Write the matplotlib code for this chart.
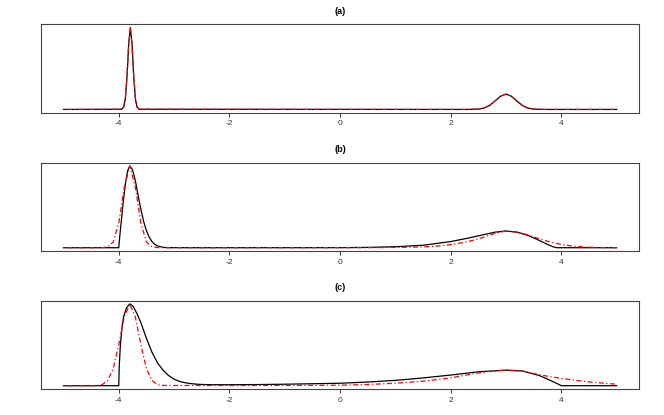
import matplotlib
matplotlib.use("Agg")
import matplotlib.pyplot as plt

# Values (relative density, peak of each panel = 1)

# panel (a)
xa_black = [-5.0, -3.95, -3.91, -3.88, -3.85, -3.82, -3.79, -3.76, -3.73, -3.70, -3.67, -3.63,
            2.3, 2.5, 2.6, 2.7, 2.8, 2.9, 3.0, 3.1, 3.2, 3.3, 3.4, 3.5, 3.7, 5.0]
ya_black = [0.0, 0.002, 0.029, 0.135, 0.41, 0.80, 1.0, 0.80, 0.41, 0.135, 0.029, 0.002,
            0.0, 0.004, 0.016, 0.047, 0.101, 0.161, 0.188, 0.161, 0.101, 0.047, 0.016, 0.004, 0.0, 0.0]
xa_red = [-5.0, -3.95, -3.91, -3.88, -3.85, -3.82, -3.79, -3.76, -3.73, -3.70, -3.67, -3.63,
          2.3, 2.5, 2.6, 2.7, 2.8, 2.9, 3.0, 3.1, 3.2, 3.3, 3.4, 3.5, 3.7, 5.0]
ya_red = [0.0, 0.003, 0.031, 0.14, 0.41, 0.79, 0.99, 0.80, 0.42, 0.14, 0.03, 0.003,
          0.0, 0.005, 0.017, 0.048, 0.102, 0.160, 0.186, 0.160, 0.102, 0.048, 0.017, 0.005, 0.0, 0.0]

# panel (b)
xb_black = [-5.0, -4.0, -3.98, -3.95, -3.92, -3.88, -3.84, -3.80, -3.75, -3.70, -3.65, -3.60,
            -3.55, -3.50, -3.45, -3.40, -3.35, -3.30, -3.2, -3.1, -2.5,
            0.0, 0.5, 1.0, 1.5, 2.0, 2.3, 2.6, 2.8, 3.0, 3.2, 3.4, 3.6, 3.75, 3.85, 3.92, 5.0]
yb_black = [0.0, 0.0, 0.15, 0.35, 0.55, 0.78, 0.94, 1.0, 0.95, 0.82, 0.64, 0.47,
            0.32, 0.21, 0.13, 0.075, 0.042, 0.022, 0.005, 0.001, 0.0,
            0.001, 0.004, 0.012, 0.03, 0.075, 0.115, 0.16, 0.19, 0.204, 0.19, 0.15, 0.09, 0.04, 0.012, 0.0, 0.0]
xb_red = [-5.0, -4.3, -4.2, -4.1, -4.0, -3.9, -3.8, -3.7, -3.6, -3.5, -3.4, -3.3, -3.2,
          0.5, 1.0, 1.5, 1.8, 2.0, 2.2, 2.4, 2.6, 2.8, 3.0, 3.2, 3.4, 3.6, 3.8, 4.0, 4.2, 4.4, 4.6, 4.8, 5.0]
yb_red = [0.0, 0.0, 0.012, 0.07, 0.30, 0.74, 1.0, 0.74, 0.30, 0.07, 0.012, 0.001, 0.0,
          0.001, 0.003, 0.01, 0.022, 0.038, 0.06, 0.09, 0.128, 0.175, 0.204, 0.19, 0.155, 0.11, 0.07, 0.04, 0.02, 0.009, 0.004, 0.001, 0.0]

# panel (c)
xc_black = [-5.0, -4.0, -3.99, -3.97, -3.94, -3.91, -3.86, -3.80, -3.74, -3.67, -3.6, -3.5,
            -3.4, -3.3, -3.2, -3.1, -3.0, -2.9, -2.8, -2.7, -2.6, -2.5, -2.3, -2.0, -1.5,
            -1.0, -0.5, 0.0, 0.5, 1.0, 1.5, 2.0, 2.5, 3.0, 3.3, 3.6, 3.72, 3.85, 3.95, 4.0, 5.0]
yc_black = [0.0, 0.0, 0.25, 0.5, 0.72, 0.85, 0.95, 1.0, 0.97, 0.88, 0.77, 0.58,
            0.41, 0.28, 0.19, 0.125, 0.08, 0.052, 0.036, 0.026, 0.019, 0.015, 0.012, 0.012, 0.014,
            0.018, 0.024, 0.03, 0.045, 0.065, 0.095, 0.13, 0.17, 0.19, 0.18, 0.125, 0.09, 0.05, 0.018, 0.0, 0.0]
xc_red = [-5.0, -4.45, -4.4, -4.3, -4.2, -4.1, -4.0, -3.9, -3.8, -3.7, -3.6, -3.5, -3.4,
          -3.3, -3.2, -2.0, -1.0, 0.0, 0.5, 1.0, 1.5, 2.0, 2.4, 2.7, 3.0, 3.3, 3.6, 3.8,
          4.0, 4.3, 4.6, 5.0]
yc_red = [0.0, 0.0, 0.002, 0.013, 0.063, 0.21, 0.50, 0.84, 1.0, 0.84, 0.50, 0.21, 0.063,
          0.013, 0.003, 0.002, 0.003, 0.006, 0.015, 0.03, 0.055, 0.095, 0.145, 0.175, 0.19, 0.178, 0.135, 0.11,
          0.09, 0.062, 0.04, 0.018]

panels = [
    ("(a)", xa_black, ya_black, xa_red, ya_red),
    ("(b)", xb_black, yb_black, xb_red, yb_red),
    ("(c)", xc_black, yc_black, xc_red, yc_red),
]
tick_pos = [-4, -2, 0, 2, 4]

plt.rcParams["font.family"] = "Liberation Sans"
plt.rcParams["axes.unicode_minus"] = False

fig = plt.figure(figsize=(6.64, 4.15), dpi=100)
bottoms = [0.7284, 0.3952, 0.0627]

for (title, xk, yk, xr, yr), b in zip(panels, bottoms):
    ax = fig.add_axes([0.0622, b, 0.8997, 0.213])
    ax.plot(xk, yk, color="black", lw=0.9)
    ax.plot(xr, yr, color="red", lw=0.9, dashes=(1, 2, 4, 2))
    ax.set_xlim(-5.4, 5.4)
    ax.set_ylim(-0.04, 1.04)
    ax.set_xticks(tick_pos)
    ax.set_xticklabels([str(t) for t in tick_pos])
    ax.set_yticks([])
    ax.tick_params(axis="x", length=3, width=0.7, pad=2.5, labelsize=6, colors="#333333")
    for s in ax.spines.values():
        s.set_linewidth(0.8)
        s.set_color("#444444")
    ax.text(0.5, 1.15, title, transform=ax.transAxes, ha="center", va="center",
            fontsize=6.5, fontweight="bold")

fig.savefig("out.png", dpi=100)
